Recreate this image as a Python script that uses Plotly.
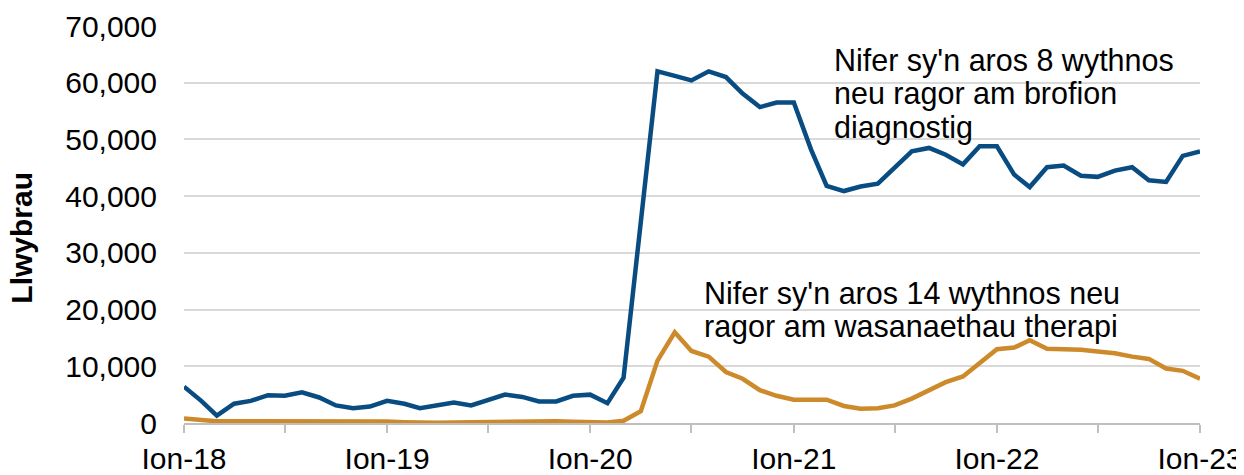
import pandas as pd
import plotly.graph_objects as go

# monthly, Jan 2018 .. Jan 2023
months = pd.date_range("2018-01-01", "2023-01-01", freq="MS")

diagnostig_8wk = [
    6400, 3900, 1300, 3400, 3900, 4900, 4800, 5400, 4500, 3100, 2600, 2900,
    3900, 3400, 2600, 3100, 3600, 3100, 4100, 5000, 4600, 3800, 3800, 4800,
    5000, 3500, 8000, 35000, 62000, 61200, 60400, 62000, 61000, 58100, 55700, 56500,
    56500, 48200, 41800, 40900, 41700, 42200, 45000, 47900, 48500, 47300, 45600, 48800,
    48800, 43800, 41600, 45100, 45400, 43600, 43400, 44500, 45100, 42800, 42500, 47100,
    47900,
]
therapi_14wk = [
    800, 500, 300, 300, 300, 350, 300, 300, 300, 350, 300, 300,
    250, 150, 50, 50, 100, 150, 200, 300, 350, 400, 300, 200,
    150, 100, 400, 2100, 11000, 16000, 12700, 11700, 9000, 7800, 5800, 4800,
    4100, 4100, 4100, 3000, 2500, 2600, 3100, 4300, 5700, 7200, 8200, 10600,
    13000, 13300, 14600, 13100, 13000, 12900, 12600, 12300, 11700, 11300, 9600, 9200,
    7800,
]

tick_dates = ["2018-01-01", "2019-01-01", "2020-01-01", "2021-01-01", "2022-01-01", "2023-01-01"]
tick_labels = ["Ion-18", "Ion-19", "Ion-20", "Ion-21", "Ion-22", "Ion-23"]

BLUE = "#084c82"
ORANGE = "#cc8a2b"
FONT = "Liberation Sans, Arial, sans-serif"

fig = go.Figure()
fig.add_trace(go.Scatter(x=months, y=diagnostig_8wk, mode="lines",
                         line=dict(color=BLUE, width=4.5), name="diagnostig"))
fig.add_trace(go.Scatter(x=months, y=therapi_14wk, mode="lines",
                         line=dict(color=ORANGE, width=4.5), name="therapi"))

# labels next to the lines, one annotation per text line
label_lines = [
    (0.6378, 0.9137, "Nifer sy'n aros 8 wythnos"),
    (0.6378, 0.8295, "neu ragor am brofion"),
    (0.6378, 0.7452, "diagnostig"),
    (0.5095, 0.3270, "Nifer sy'n aros 14 wythnos neu"),
    (0.5095, 0.2430, "ragor am wasanaethau therapi"),
]
for x, y, txt in label_lines:
    fig.add_annotation(x=x, y=y, xref="paper", yref="paper", text=txt,
                       showarrow=False, xanchor="left", yanchor="middle",
                       font=dict(size=30.5, color="#000000", family=FONT))

fig.add_annotation(x=-0.1594, y=0.467, xref="paper", yref="paper",
                   text="<b>Llwybrau</b>", textangle=-90, showarrow=False,
                   xanchor="center", yanchor="middle",
                   font=dict(size=30, color="#000000", family=FONT))

fig.update_xaxes(
    range=["2018-01-01", "2023-01-01"],
    tickvals=tick_dates, ticktext=tick_labels,
    ticks="outside", ticklen=8, tickwidth=1.5, tickcolor="#bfbfbf",
    minor=dict(dtick="M6", tick0="2018-01-01", ticks="outside", ticklen=8,
               tickwidth=1.5, tickcolor="#bfbfbf", showgrid=False),
    showline=True, linecolor="#bfbfbf", linewidth=1.5,
    showgrid=False, zeroline=False, automargin=False,
    tickfont=dict(size=30, color="#000000", family=FONT),
)
fig.update_yaxes(
    range=[0, 70000], dtick=10000, tickformat=",",
    showgrid=True, gridcolor="#d9d9d9", gridwidth=1.5,
    zeroline=False, showline=False, ticks="", automargin=False,
    ticklabelstandoff=26,
    tickfont=dict(size=30, color="#000000", family=FONT),
)
# page body adds an 8px offset, so the figure is a bit smaller than the window
fig.update_layout(
    width=1236, height=467,
    margin=dict(l=176, r=44, t=18, b=52),
    plot_bgcolor="white", paper_bgcolor="white",
    showlegend=False,
    font=dict(family=FONT),
)
fig.write_html("out.html")
